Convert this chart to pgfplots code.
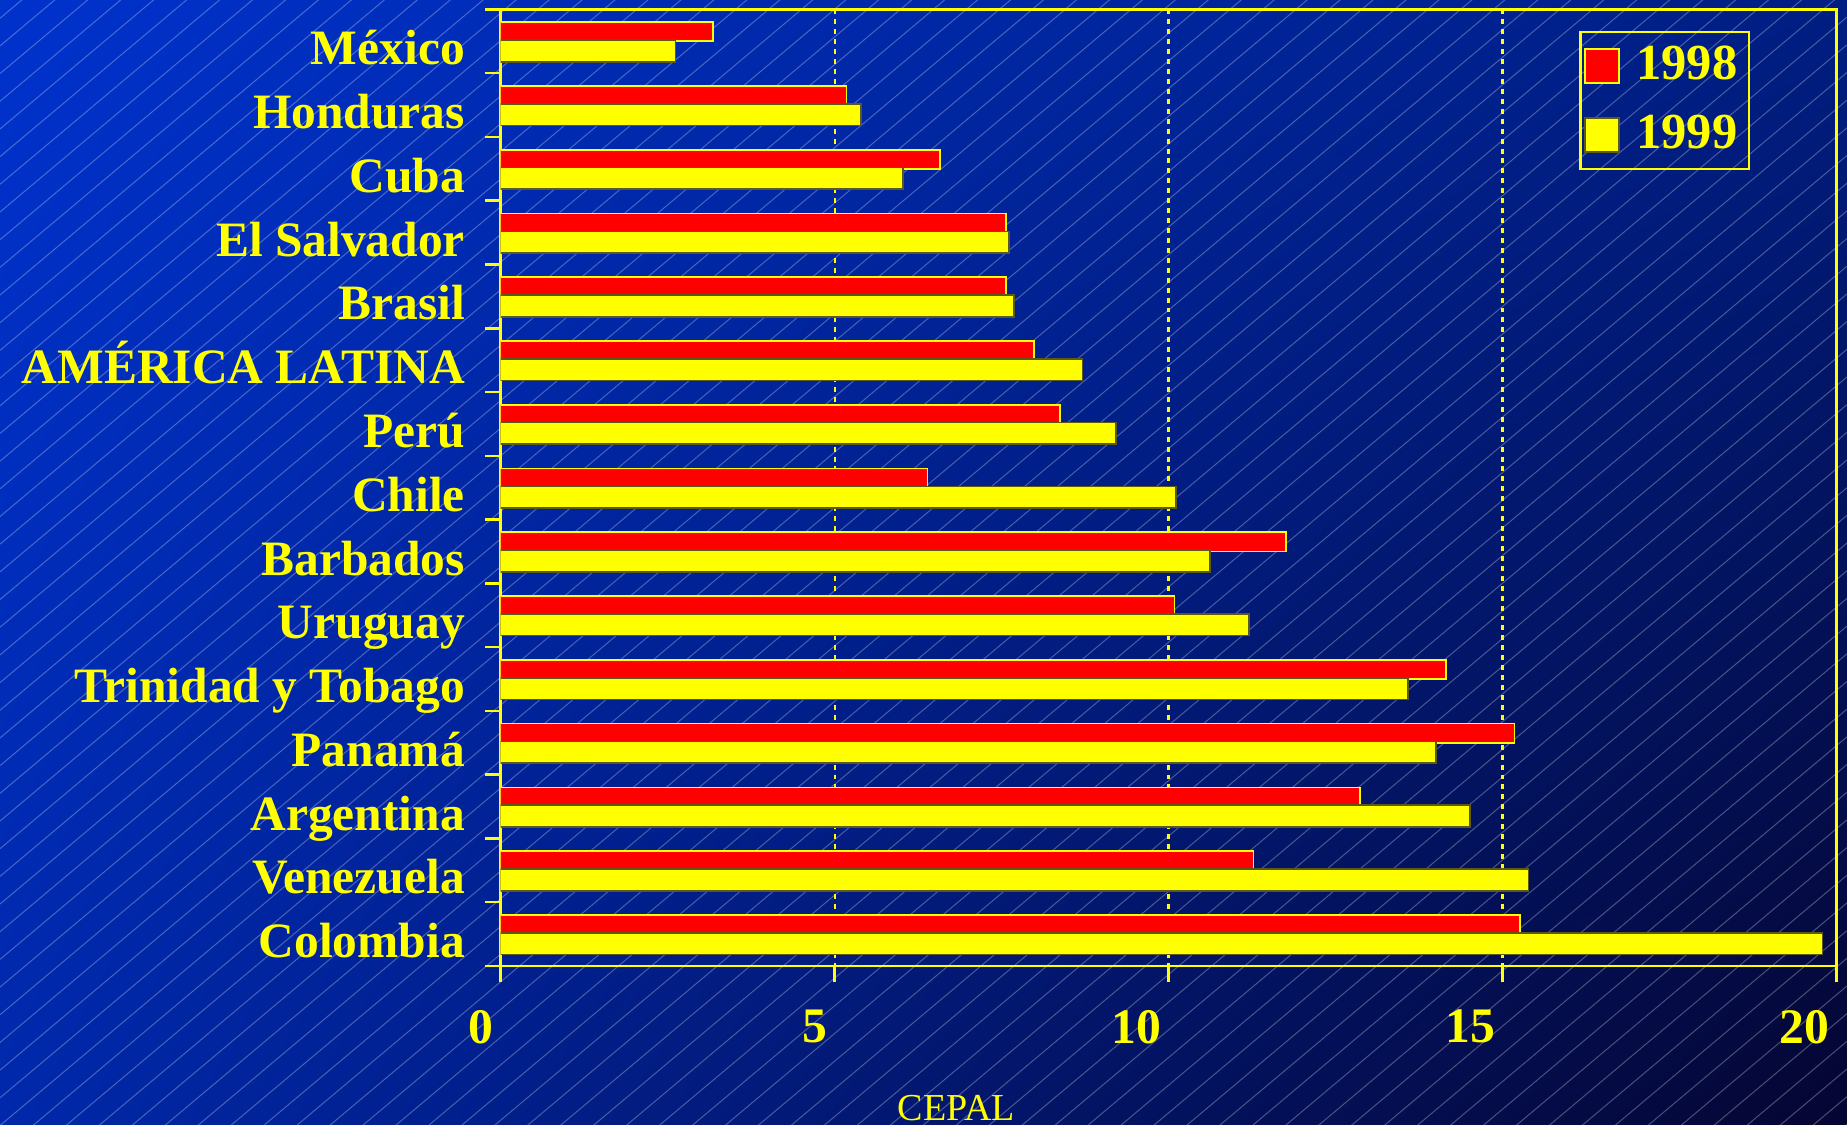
\documentclass[border=0pt]{standalone}
\usepackage{pgfplots}
\usepackage{pgfplotstable}
\pgfplotsset{compat=1.18}
\usetikzlibrary{shadings}
\usepackage{fontspec}
\setmainfont{Liberation Serif}
\definecolor{cy}{RGB}{255,255,0}
\definecolor{cr}{RGB}{255,0,0}
\definecolor{cyedge}{RGB}{90,90,20}
\definecolor{bgTL}{RGB}{0,50,204}
\definecolor{bgTR}{RGB}{0,30,130}
\definecolor{bgBL}{RGB}{0,40,170}
\definecolor{bgBR}{RGB}{5,5,50}

\pgfplotstableread{
y  v98   v99
0  3.18  2.62
1  5.18  5.40
2  6.58  6.02
3  7.57  7.61
4  7.57  7.69
5  7.99  8.71
6  8.38  9.21
7  6.39  10.11
8  11.76 10.62
9  10.09 11.20
10 14.15 13.59
11 15.18 14.00
12 12.87 14.51
13 11.27 15.39
14 15.26 19.79
}\data

\begin{document}
\begin{tikzpicture}
\shade[upper left=bgTL, upper right=bgTR, lower left=bgBL, lower right=bgBR] (0,0) rectangle (15.68,9.55);
\begin{scope}
\clip (0,0) rectangle (15.68,9.55);
\foreach \i in {0,...,100}
  \draw[white, opacity=0.28, line width=0.25pt] (0,{-13.4+0.235*\i}) -- ++(15.68,13.17);
\end{scope}
\begin{axis}[
  at={(4.25cm,1.35cm)}, anchor=south west,
  scale only axis, width=11.34cm, height=8.12cm,
  xmin=0, xmax=20, ymin=-0.5, ymax=14.5, y dir=reverse,
  axis line style={cy, line width=0.6pt},
  tick align=outside, xtick pos=bottom, ytick pos=left,
  xtick={0,5,10,15,20}, xticklabels={0,5,10,15,20},
  ytick={0,...,14},
  yticklabels={México,Honduras,Cuba,El Salvador,Brasil,AMÉRICA LATINA,Perú,Chile,Barbados,Uruguay,Trinidad y Tobago,Panamá,Argentina,Venezuela,Colombia},
  minor ytick={-0.5,0.5,...,14.5},
  major tick length=0.14cm, minor tick length=0.13cm,
  tick style={cy, line width=0.6pt},
  major y tick style={draw=none},
  /pgf/number format/assume math mode=true,
  xticklabel style={font=\bfseries\fontsize{12}{14}\selectfont, text=cy, anchor=north east, xshift=0.06cm},
  xticklabel shift=0.11cm,
  yticklabel style={font=\bfseries\fontsize{11.95}{14}\selectfont, text=cy, anchor=base east, yshift=-0.2cm},
  yticklabel shift=0.04cm,
  xmajorgrids, grid style={cy, line width=0.5pt, dash pattern=on 1.2pt off 1.2pt},
  legend style={at={(0.9356,0.9778)}, anchor=north east, draw=cy, fill=none,
    line width=0.6pt, font=\bfseries\fontsize{12.2}{14}\selectfont, text=cy,
    inner xsep=0.03cm, inner ysep=0.05cm, row sep=0.11cm},
  legend image code/.code={\draw[#1, line width=0.4pt] (0cm,-0.145cm) rectangle (0.29cm,0.145cm); \path (0.36cm,0cm);},
]
\addplot[xbar, bar width=0.30, bar shift=-0.15, fill=cr, draw=cy, line width=0.4pt] table[x=v98, y=y] {\data};
\addplot[xbar, bar width=0.34, bar shift=0.15, fill=cy, draw=cyedge, line width=0.4pt] table[x=v99, y=y] {\data};
\legend{1998,1999}
\end{axis}
\node[text=cy, font=\fontsize{9.2}{11}\selectfont] at (8.12,0.14) {CEPAL};
\pgfresetboundingbox
\useasboundingbox (0,0) rectangle (15.68,9.55);
\end{tikzpicture}
\end{document}
